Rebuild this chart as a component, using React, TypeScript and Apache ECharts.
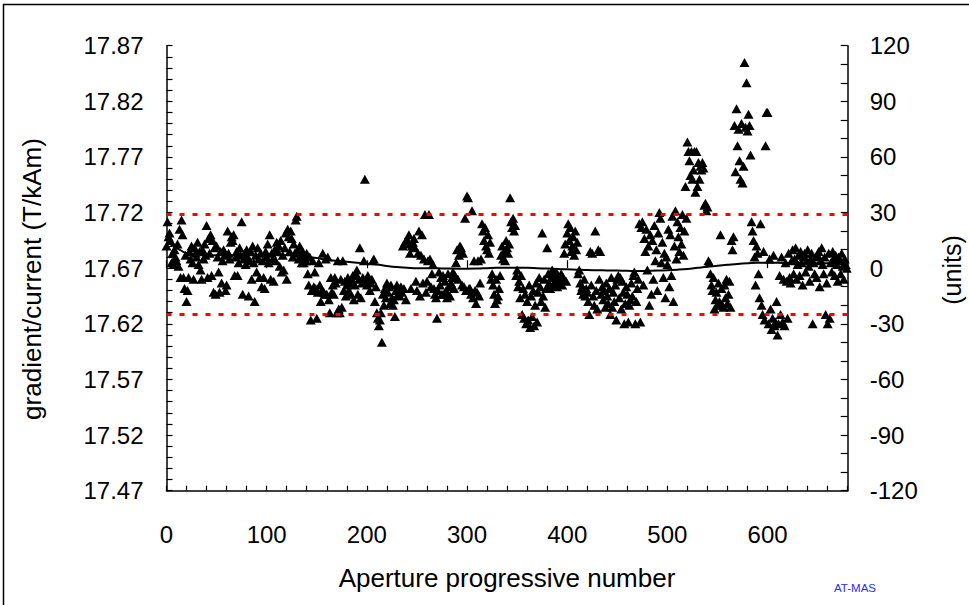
import React, { useEffect, useRef } from "react";
import * as echarts from "echarts";

// Measured values in "units" (0 units = 17.67 T/kAm, 30 units = 0.05 T/kAm), one per aperture 0..679
const values: number[] = [
  12, 25, 17, 19, 15, 3, 8, 2, 10, 6, 4, 13, 1, 21, -5, 26, 18, -5, -11, 7,
  -18, -12, -5, 9, 5, 12, 3, -6, 11, 8, 6, 14, 2, 9, -1, -6, 10, 5, 13, 7,
  23, -5, 16, 8, 18, -4, 15, -13, 11, -14, 12, 6, -2, -13, 9, -8, 4, 10, 7, -12,
  -9, 20, 8, 5, 14, 17, 15, 18, -4, 6, 9, -4, 3, 11, 7, 25, -14, 5, 8, 2,
  10, 6, -15, 4, 9, -6, 12, 3, -18, 7, -2, 11, 5, -5, 8, -10, 4, -5, -11, 9,
  6, 13, 3, 18, -6, 8, 5, -7, 10, 4, 14, 9, 12, 1, 15, -2, 7, -1, 11, 19,
  -6, 21, 17, 9, 20, 16, 6, 13, 8, 26, 28, 10, 5, 12, 7, 3, 9, 3, 6, 4,
  8, -3, -9, 6, -28, -12, 4, -10, -2, -11, -27, -13, 3, -9, -18, -12, 8, -13, -14, 5,
  -14, 6, -17, -24, -5, -13, -9, -14, -5, -8, -24, 4, -22, -24, -6, -21, 4, -12, -7, -15,
  -9, -5, -12, -8, -14, -6, -4, -17, -9, -3, -1, -14, -6, 11, -16, -8, -5, 4, 48, -7,
  -9, -4, -6, -12, -8, -6, 4, 5, -18, -10, -24, -27, -31, -28, -24, -40, -14, -20, -11, -16,
  -8, -13, -10, -19, -9, -16, -20, -17, -26, -12, -9, -14, -11, -15, -10, -13, 12, -11, 14, -17,
  13, 15, 18, 8, -11, 12, 14, 16, 11, -7, -12, 8, 20, -15, 7, 18, -8, 5, 29, -13,
  -7, 4, 29, 5, -10, -3, 2, -11, -14, -16, -27, -12, -2, -9, -5, -14, -4, -14, -7, -12,
  -16, -3, -10, -15, -8, -5, -2, -11, -4, 3, 10, -6, 7, 12, 11, -9, 8, -10, 27, -12,
  39, 38, -11, -11, -14, 31, -16, 4, -12, -19, -13, 4, -15, -8, 5, 24, 20, 15, 22, 12,
  10, 18, 8, 14, -6, -3, -9, -14, -19, -6, -17, -15, -11, -4, 7, 12, 5, 9, 4, 15,
  11, 8, 13, 38, 25, 22, 27, 20, 23, -4, -1, -10, -7, -16, -4, -25, -11, -27, -14, -30,
  -18, -28, -9, -32, -15, -26, -12, -31, -20, -8, -29, -13, -5, -10, -18, 19, -15, -6, -21, -11,
  11, -3, -8, -11, -5, -1, -9, -3, -7, -2, -10, -4, -6, -8, -3, -9, -5, 8, 13, -7,
  19, 24, 15, 22, 9, 12, 17, 7, 20, 10, 14, -3, -1, -8, -12, -10, -14, -6, -15, -11,
  -13, -18, -25, 9, -9, 8, -15, -20, 20, -12, -22, 10, -6, 9, -14, -10, -17, -12, -21, -8,
  -15, -19, -11, -25, -5, -21, -13, -18, -9, -28, -6, -4, -16, -5, -22, -7, -13, -30, -19, -10,
  -14, -29, -20, -17, -8, -15, -4, -2, -30, -18, -11, -6, 24, -29, 22, 25, -9, 16, 9, 21,
  -1, 12, -20, 18, -14, 15, -6, 23, 4, 10, -12, 19, 30, 27, 3, 14, -5, 8, -16, 6,
  2, 21, -10, 18, -4, 28, -18, 12, 31, 5, 25, 17, 9, 22, 13, 29, 7, 20, 44, 27,
  68, 63, 58, 50, 63, 48, 53, 63, 41, 63, 44, 57, 48, 55, 53, 57, 54, 34, 35, 31,
  33, 4, 3, -3, -9, -12, -5, -22, -17, -13, -20, -8, -18, 18, -11, -20, -21, -9, -16, -6,
  -19, -14, -7, -21, 15, 10, 17, 77, 52, 86, 66, 75, 58, 48, 78, 46, 55, 111, 76, 100,
  74, 83, 77, 61, 25, 20, 15, 6, -9, 12, 8, -3, -16, 24, -20, -25, 9, -28, 66, 84,
  84, -30, 5, -22, -33, -27, 7, -31, -29, -18, -36, -30, -4, -25, 6, -29, -6, -31, 3, -7,
  -27, 8, -5, -8, 4, 10, -3, 5, 11, -6, 2, 7, -4, 9, 3, -9, 6, 8, -2, 4,
  10, 1, -7, 5, 8, -30, 3, -3, 6, -5, 7, 9, -10, 4, 11, 2, -3, 6, -25, -8,
  -30, 8, -27, 3, -2, 9, 5, -4, 7, 2, -7, 6, 4, -3, 8, 1, -6, 5, 2, 0,
];

// Moving-average trend, one value every 10 apertures (0..680)
const trendStep = 10;
const trend: number[] = [
  14, 11, 8, 7, 7, 7, 7, 7, 7, 7, 7, 7, 7, 7, 6, 5.5, 4.5, 4, 3.5, 3,
  2.5, 2, 1.2, 0.6, 0.3, 0, 0, 0, -0.2, -0.3, -0.3, -0.2, 0, 0.2, 0.3, 0.3, 0.2, 0, -0.2, -0.4,
  -0.6, -0.8, -1, -1.1, -1.2, -1.3, -1.4, -1.5, -1.4, -1.3, -1.1, -0.8, -0.4, 0.2, 0.8, 1.3, 1.8, 2.3, 2.7, 3,
  3, 2.9, 2.8, 2.7, 2.7, 2.7, 2.7, 2.7, 2.7,
];

// Tolerance limits (units)
const limits: number[] = [29, -25];

const BASE = 17.67; // T/kAm at 0 units
const UNITS_PER_TKAM = 600;

const FONT = "'Liberation Sans', Arial, Helvetica, sans-serif";

export default function App() {
  const ref = useRef<HTMLDivElement>(null);

  useEffect(() => {
    if (!ref.current) return;
    const chart = echarts.init(ref.current, undefined, { renderer: "svg" });
    const axisLine = { show: true, onZero: false, lineStyle: { color: "#000", width: 1.5 } };
    const tickStyle = { color: "#000", width: 1.2 };
    const option: any = {
      animation: false,
      backgroundColor: "#fff",
      grid: { left: 166.5, right: 121.3, top: 45.7, bottom: 114.3, outerBoundsMode: "none", containLabel: false },
      xAxis: [
        {
          type: "value",
          min: 0,
          max: 680,
          interval: 20,
          position: "bottom",
          axisLine,
          axisTick: { show: true, inside: true, length: 5, lineStyle: tickStyle },
          axisLabel: {
            formatter: (v: number) => (v % 100 === 0 ? String(v) : ""),
            fontSize: 24,
            fontFamily: FONT,
            color: "#000",
            margin: 32,
          },
          splitLine: { show: false },
        },
        {
          type: "value",
          min: 0,
          max: 680,
          interval: 100,
          position: "bottom",
          axisLine: { show: false },
          axisTick: { show: true, inside: true, length: 8, lineStyle: tickStyle },
          axisLabel: { show: false },
          splitLine: { show: false },
        },
      ],
      yAxis: [
        {
          type: "value",
          min: -120,
          max: 120,
          interval: 6,
          position: "left",
          axisLine,
          axisTick: { show: true, inside: true, length: 6, lineStyle: tickStyle },
          axisLabel: {
            formatter: (v: number) =>
              Math.round(v + 120) % 30 === 0 ? (BASE + v / UNITS_PER_TKAM).toFixed(2) : "",
            fontSize: 24,
            fontFamily: FONT,
            color: "#000",
            margin: 23,
          },
          splitLine: { show: false },
        },
        {
          type: "value",
          min: -120,
          max: 120,
          interval: 10,
          position: "right",
          axisLine,
          axisTick: { show: true, inside: true, length: 7, lineStyle: tickStyle },
          axisLabel: {
            formatter: (v: number) => (Math.round(v) % 30 === 0 ? String(v) : ""),
            fontSize: 24,
            fontFamily: FONT,
            color: "#000",
            margin: 22,
          },
          splitLine: { show: false },
        },
      ],
      series: [
        {
          type: "scatter",
          xAxisIndex: 0,
          yAxisIndex: 1,
          symbol: "triangle",
          symbolSize: [10, 9],
          itemStyle: { color: "#000", opacity: 1 },
          data: values.map((v, i) => [i, v]),
          markLine: {
            silent: true,
            symbol: "none",
            label: { show: false },
            lineStyle: { color: "#ff0000", type: [5, 8], width: 3, opacity: 1 },
            emphasis: { disabled: true },
            data: limits.map((v) => ({ yAxis: v })),
          },
        },
        {
          type: "line",
          xAxisIndex: 0,
          yAxisIndex: 1,
          showSymbol: false,
          symbol: "none",
          smooth: 0.4,
          lineStyle: { color: "#000", width: 2 },
          data: trend.map((v, i) => [i * trendStep, v]),
        },
      ],
      graphic: [
        {
          type: "rect",
          silent: true,
          z: -10,
          shape: { x: 3.5, y: 4.5, width: 1100, height: 1100 },
          style: { fill: "none", stroke: "#000", lineWidth: 1.5 },
        },
        {
          type: "text",
          x: 32,
          y: 279,
          rotation: Math.PI / 2,
          style: {
            text: "gradient/current (T/kAm)",
            fontSize: 26,
            fontFamily: FONT,
            fill: "#000",
            align: "center",
            verticalAlign: "middle",
            textAlign: "center",
            textVerticalAlign: "middle",
          },
        },
        {
          type: "text",
          x: 952,
          y: 270,
          rotation: Math.PI / 2,
          style: {
            text: "(units)",
            fontSize: 25,
            fontFamily: FONT,
            fill: "#000",
            align: "center",
            verticalAlign: "middle",
            textAlign: "center",
            textVerticalAlign: "middle",
          },
        },
        {
          type: "text",
          x: 507,
          y: 578,
          style: {
            text: "Aperture progressive number",
            fontSize: 26,
            fontFamily: FONT,
            fill: "#000",
            align: "center",
            verticalAlign: "middle",
            textAlign: "center",
            textVerticalAlign: "middle",
          },
        },
        {
          type: "text",
          x: 855,
          y: 588,
          style: {
            text: "AT-MAS",
            fontSize: 11.5,
            fontFamily: FONT,
            fill: "#2b2bff",
            align: "center",
            verticalAlign: "middle",
            textAlign: "center",
            textVerticalAlign: "middle",
          },
        },
      ],
    };
    chart.setOption(option);
    return () => chart.dispose();
  }, []);

  return (
    <div
      ref={ref}
      style={{ position: "absolute", left: 0, top: 0, width: 969, height: 605, background: "#fff" }}
    />
  );
}
